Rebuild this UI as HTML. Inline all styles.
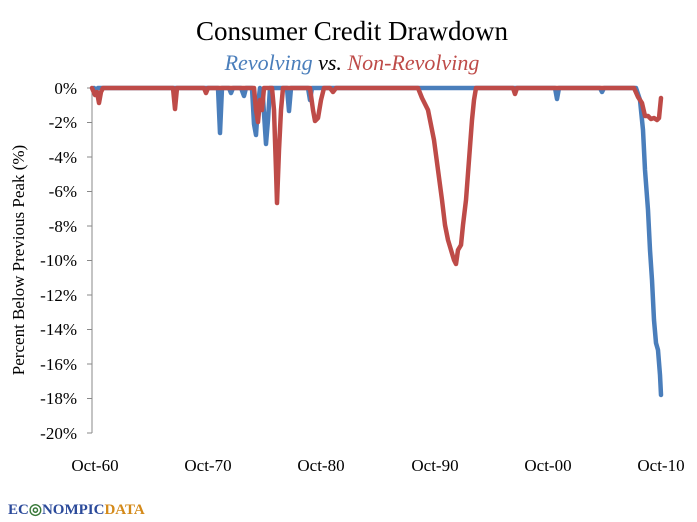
<!DOCTYPE html>
<html><head><style>
body{margin:0;background:#fff;}
svg{display:block;font-family:"Liberation Serif",serif;}
</style></head><body>
<svg width="697" height="522" viewBox="0 0 697 522">
<text x="352" y="40" text-anchor="middle" font-size="27" fill="#000">Consumer Credit Drawdown</text>
<text x="352" y="70" text-anchor="middle" font-size="22" font-style="italic"><tspan fill="#4a7ebb">Revolving</tspan><tspan fill="#000"> vs. </tspan><tspan fill="#be4b48">Non-Revolving</tspan></text>
<g stroke="#888" stroke-width="1">
<line x1="92" y1="88" x2="92" y2="433"/>
<line x1="87" y1="88" x2="92" y2="88"/><line x1="87" y1="122.5" x2="92" y2="122.5"/><line x1="87" y1="157" x2="92" y2="157"/><line x1="87" y1="191.5" x2="92" y2="191.5"/><line x1="87" y1="226" x2="92" y2="226"/><line x1="87" y1="260.5" x2="92" y2="260.5"/><line x1="87" y1="295" x2="92" y2="295"/><line x1="87" y1="329.5" x2="92" y2="329.5"/><line x1="87" y1="364" x2="92" y2="364"/><line x1="87" y1="398.5" x2="92" y2="398.5"/><line x1="87" y1="433" x2="92" y2="433"/>
</g>
<g font-size="17" text-anchor="end" fill="#000">
<text x="77" y="94">0%</text><text x="77" y="128">-2%</text><text x="77" y="163">-4%</text><text x="77" y="197">-6%</text><text x="77" y="232">-8%</text><text x="77" y="266">-10%</text><text x="77" y="301">-12%</text><text x="77" y="335">-14%</text><text x="77" y="370">-16%</text><text x="77" y="404">-18%</text><text x="77" y="439">-20%</text>
</g>
<g font-size="17" text-anchor="middle" fill="#000">
<text x="95" y="471">Oct-60</text><text x="208" y="471">Oct-70</text><text x="321" y="471">Oct-80</text><text x="435" y="471">Oct-90</text><text x="548" y="471">Oct-00</text><text x="661" y="471">Oct-10</text>
</g>
<text transform="translate(24,260) rotate(-90)" text-anchor="middle" font-size="17">Percent Below Previous Peak (%)</text>
<g fill="none" stroke-width="4.5" stroke-linejoin="round" stroke-linecap="round">
<path stroke="#4a7ebb" d="M94 88 L96 90 L98 88 L218 88 L220 133 L222 88 L229 88 L231 93 L233 88 L241 88 L244 96 L246 88 L252 88 L254 124 L256 135 L258 105 L260 88 L263 98 L266 144 L268 120 L270 88 L287 88 L289 111 L291 88 L308 88 L310 100 L312 88 L555 88 L557 99 L559 88 L600 88 L602 92 L604 88 L636 88 L640 100 L643 130 L645 170 L648 210 L650 250 L652 280 L654 320 L656 343 L658 350 L660 375 L661 395"/>
<path stroke="#be4b48" d="M92 88 L95 95 L97 92 L99 103 L101 92 L103 88 L173 88 L175 109 L177 88 L204 88 L206 93 L208 88 L254 88 L256 110 L258 122 L260 100 L262 110 L264 88 L272 88 L274 110 L276 170 L277 203 L279 150 L281 110 L283 88 L310 88 L313 110 L315 121 L318 118 L321 100 L324 88 L330 88 L333 92 L336 88 L418 88 L422 98 L428 110 L434 140 L438 170 L442 200 L445 225 L448 240 L451 250 L454 260 L456 264 L458 250 L461 245 L463 225 L466 200 L469 160 L472 120 L474 100 L476 88 L513 88 L515 94 L517 88 L634 88 L638 97 L642 103 L645 116 L648 116 L651 119 L654 118 L657 120 L659 118 L661 98"/>
</g>
<text x="8" y="514" font-size="15" font-weight="bold" font-family="Liberation Serif,serif"><tspan fill="#2b4a9a">EC</tspan><tspan fill="#3a7a3a">◎</tspan><tspan fill="#2b4a9a">NOMPIC</tspan><tspan fill="#d48a1a">DATA</tspan></text>
</svg>
</body></html>
